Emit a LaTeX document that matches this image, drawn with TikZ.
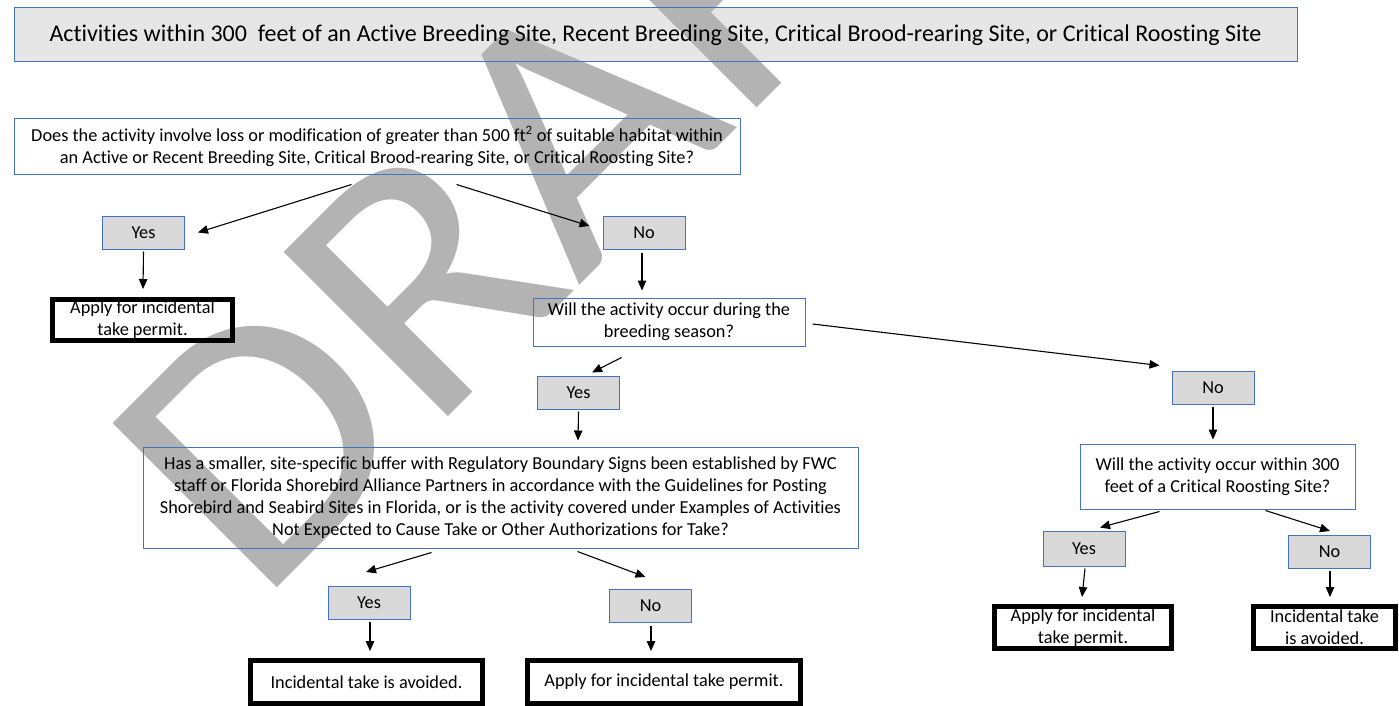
\documentclass[tikz,border=0pt]{standalone}
\usepackage{fontspec}
\setmainfont{Carlito}[Ligatures=NoCommon]
\usetikzlibrary{arrows.meta,calc}
\definecolor{bblue}{HTML}{4472C4}
\definecolor{ynfill}{HTML}{D9D9D9}
\definecolor{tfill}{HTML}{E6E6E6}
\definecolor{wmgray}{HTML}{B3B3B3}
\pgfdeclarelayer{back}
\pgfdeclarelayer{wmark}
\pgfsetlayers{back,wmark,main}
\begin{document}
\begin{tikzpicture}[x=1pt,y=-1pt,
  qbox/.style={draw=bblue,line width=1pt,align=center,inner sep=0pt,
    font=\fontsize{18.3}{22}\selectfont},
  ynbox/.style={qbox,minimum width=82pt,minimum height=33pt},
  endbox/.style={draw=black,line width=5pt,align=center,inner sep=0pt,
    font=\fontsize{18.3}{22}\selectfont},
  arr/.style={line width=1.1pt,-{Triangle[length=10pt,width=8.5pt]}}]
\useasboundingbox (0,0) rectangle (1399,706);

% title
\node[qbox,minimum width=1283pt,minimum height=54pt,font=\fontsize{24}{28}\selectfont] (title) at (655.5,35)
  {Activities within 300\ \ feet of an Active Breeding Site, Recent Breeding Site, Critical Brood-rearing Site, or Critical Roosting Site};

% questions
\node[qbox,minimum width=726pt,minimum height=55pt] (q1) at (377,146.5)
  {Does the activity involve loss or modification of greater than 500 ft\textsuperscript{2} of suitable habitat within\\
   an Active or Recent Breeding Site, Critical Brood-rearing Site, or Critical Roosting Site?};
\node[qbox,minimum width=272pt,minimum height=48pt] (q2) at (669,322)
  {Will the activity occur during the\\breeding season?};
\node[qbox,minimum width=715pt,minimum height=101pt] (q3) at (500.5,497.5)
  {Has a smaller, site-specific buffer with Regulatory Boundary Signs been established by FWC\\
   staff or Florida Shorebird Alliance Partners in accordance with the Guidelines for Posting\\
   Shorebird and Seabird Sites in Florida, or is the activity covered under Examples of Activities\\
   Not Expected to Cause Take or Other Authorizations for Take?};
\node[qbox,minimum width=275pt,minimum height=65pt] (q4) at (1217.5,476.5)
  {Will the activity occur within 300\\feet of a Critical Roosting Site?};

% yes / no
\node[ynbox] (yes1) at (143.5,232.5) {Yes};
\node[ynbox] (no1) at (644,232.5) {No};
\node[ynbox] (yes2) at (578.5,392.5) {Yes};
\node[ynbox] (no2) at (1213,387.5) {No};
\node[ynbox] (yes3) at (369,603) {Yes};
\node[ynbox] (no3) at (650.5,606) {No};
\node[ynbox,minimum height=35pt] (yes4) at (1084,548.5) {Yes};
\node[ynbox] (no4) at (1329.5,552) {No};

% end boxes
\node[endbox,minimum width=180pt,minimum height=41pt] (apply1) at (142.5,320)
  {Apply for incidental\\take permit.};
\node[endbox,minimum width=232pt,minimum height=43pt] (avoid1) at (366.5,682)
  {Incidental take is avoided.};
\node[endbox,minimum width=273pt,minimum height=43pt] (apply2) at (664,682)
  {Apply for incidental take permit.};
\node[endbox,minimum width=177pt,minimum height=42pt] (apply3) at (1083,627.5)
  {Apply for incidental\\take permit.};
\node[endbox,minimum width=142pt,minimum height=42pt] (avoid3) at (1324.5,627.5)
  {Incidental take\\is avoided.};

% fills
\begin{pgfonlayer}{back}
  \fill[tfill] (title.north west) rectangle (title.south east);
  \foreach \n in {yes1,no1,yes2,no2,yes3,no3,yes4,no4}
    \fill[ynfill] (\n.north west) rectangle (\n.south east);
\end{pgfonlayer}

% watermark
\begin{pgfonlayer}{wmark}
  \node[anchor=base west,inner sep=0pt,rotate=45,xscale=1.08,text=wmgray,
    font=\fontsize{362}{362}\selectfont] (wm) at (258,607) {DRAFT};
\end{pgfonlayer}

% connectors
\draw[arr] ([shift={(338,10)}]q1.south west) -- ([shift={(13,0)}]yes1.east);
\draw[arr] ([shift={(443,10)}]q1.south west) -- ([shift={(-13,-6.5)}]no1.west);
\draw[arr] ([shift={(0,2)}]yes1.south) -- ([shift={(0.5,-8)}]apply1.north);
\draw[arr] ([shift={(-2,3)}]no1.south) -- ([shift={(-27,-7)}]q2.north);
\draw[arr] ([shift={(89,11)}]q2.south west) -- ([shift={(13.5,-3)}]yes2.north);
\draw[arr] ([shift={(7,2)}]q2.east) -- ([shift={(-12,-5)}]no2.north west);
\draw[arr] ([shift={(0,2)}]yes2.south) -- ([shift={(77.5,-6)}]q3.north);
\draw[arr] ([shift={(0,2)}]no2.south) -- ([shift={(-4.5,-4)}]q4.north);
\draw[arr] ([shift={(289,4)}]q3.south west) -- ([shift={(-3,-14)}]yes3.north);
\draw[arr] ([shift={(435,3)}]q3.south west) -- ([shift={(-5,-12)}]no3.north);
\draw[arr] ([shift={(1,2)}]yes3.south) -- ([shift={(3.5,-7)}]avoid1.north);
\draw[arr] ([shift={(0.5,3)}]no3.south) -- ([shift={(-13,-7)}]apply2.north);
\draw[arr] ([shift={(80,2)}]q4.south west) -- ([shift={(16,-3)}]yes4.north);
\draw[arr] ([shift={(186,1)}]q4.south west) -- ([shift={(0.5,-4)}]no4.north);
\draw[arr] ([shift={(1,2)}]yes4.south) -- ([shift={(-1,-7)}]apply3.north);
\draw[arr] ([shift={(0.5,2)}]no4.south) -- ([shift={(5.5,-7)}]avoid3.north);
\end{tikzpicture}
\end{document}
